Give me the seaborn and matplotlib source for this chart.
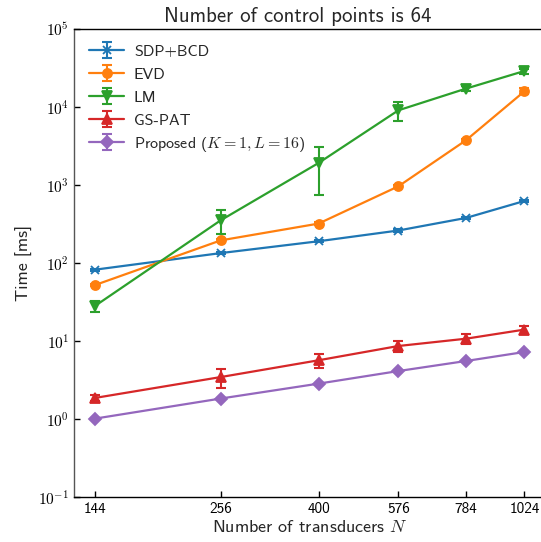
import numpy as np
import pandas as pd
import matplotlib
matplotlib.use("Agg")
import matplotlib.pyplot as plt
import seaborn as sns
from matplotlib.ticker import FixedLocator, FuncFormatter, NullLocator
from matplotlib.legend_handler import HandlerTuple

# ---- data ----
n_transducers = [144, 256, 400, 576, 784, 1024]
methods = ["SDP+BCD", "EVD", "LM", "GS-PAT", r"Proposed ($K=1, L=16$)"]
sdp_mean = [82, 134, 190, 261, 378, 624]
sdp_err = [3, 4, 6, 8, 12, 20]
evd_mean = [52, 195, 320, 962, 3740, 15900]
evd_err = [2, 8, 12, 40, 150, 1400]
lm_mean = [28, 353, 1914, 9070, 17200, 28950]
lm_err = [4.5, 120, 1180, 2400, 1200, 2200]
gspat_mean = [1.86, 3.45, 5.66, 8.63, 10.7, 14.0]
gspat_err = [0.15, 0.95, 1.15, 1.4, 1.5, 1.7]
prop_mean = [1.01, 1.83, 2.84, 4.12, 5.54, 7.23]
prop_err = [0.02, 0.04, 0.06, 0.08, 0.1, 0.12]

means = [sdp_mean, evd_mean, lm_mean, gspat_mean, prop_mean]
errs = [sdp_err, evd_err, lm_err, gspat_err, prop_err]
markers = ["x", "o", "v", "^", "D"]
msizes = [6, 6.5, 6.5, 6.5, 6]
colors = sns.color_palette("tab10", 5)

sns.set_theme(style="ticks")
plt.rcParams["font.family"] = ["cmss10", "DejaVu Sans"]
plt.rcParams["mathtext.fontset"] = "cm"
plt.rcParams["axes.unicode_minus"] = False
plt.rcParams["axes.formatter.use_mathtext"] = True

fig = plt.figure(figsize=(5.41, 5.42), dpi=100)
ax = fig.add_axes([74 / 541, 45 / 542, (546 - 74) / 541, (497 - 29) / 542])

handles = []
for i, (m, mv, ev) in enumerate(zip(methods, means, errs)):
    d = pd.DataFrame({"N": n_transducers, "Time": mv})
    sns.lineplot(data=d, x="N", y="Time", color=colors[i], marker=markers[i],
                 markersize=msizes[i], markeredgewidth=1.3,
                 markeredgecolor=colors[i], linewidth=1.6, ax=ax)
    line = ax.lines[-1]
    cont = ax.errorbar(n_transducers, mv, yerr=ev, fmt="none", ecolor=colors[i],
                       elinewidth=1.5, capsize=3.5, capthick=1.5)
    handles.append((line, cont))

ax.set_xscale("log")
ax.set_yscale("log")
ax.set_xlim(131, 1130)
ax.set_ylim(0.1, 1e5)
ax.xaxis.set_major_locator(FixedLocator(n_transducers))
ax.xaxis.set_major_formatter(FuncFormatter(lambda v, p: f"{int(round(v))}"))
ax.xaxis.set_minor_locator(NullLocator())
ax.yaxis.set_major_locator(FixedLocator([1e-1, 1e0, 1e1, 1e2, 1e3, 1e4, 1e5]))
ax.yaxis.set_major_formatter(FuncFormatter(
    lambda v, p: r"$\mathsf{10^{%d}}$" % int(round(np.log10(v)))))
ax.yaxis.set_minor_locator(NullLocator())
ax.tick_params(axis="both", which="major", direction="in", length=4, width=1,
               labelsize=11, colors="black", top=False, right=False)

for s in ["left", "bottom", "top", "right"]:
    ax.spines[s].set_color("black")
    ax.spines[s].set_linewidth(1.0)
ax.spines["left"].set_color("#555555")

ax.set_xlabel(r"Number of transducers $N$", fontsize=13, labelpad=2)
ax.set_ylabel("Time [ms]", fontsize=13, labelpad=4)
ax.set_title("Number of control points is 64", fontsize=15,
             x=(298 - 74) / (546 - 74), pad=5)

ax.legend(handles, methods, loc="upper left", frameon=False, fontsize=11.5,
          handler_map={tuple: HandlerTuple(ndivide=1)},
          handlelength=2.2, handleheight=0.9, handletextpad=0.6,
          labelspacing=0.48, borderaxespad=0.55, bbox_to_anchor=(0.0, 1.0))

fig.savefig("out.png", dpi=100)
